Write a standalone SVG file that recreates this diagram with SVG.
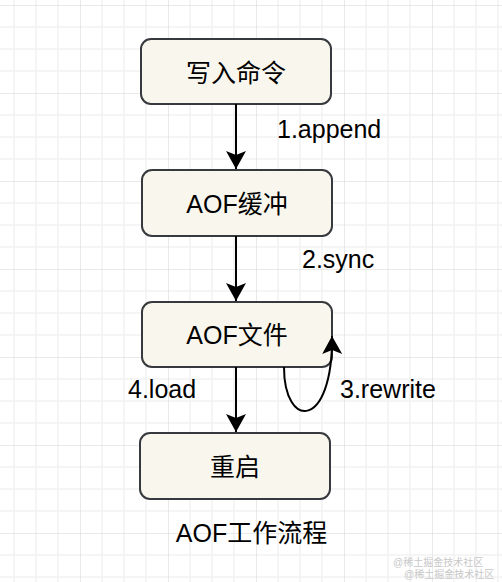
<svg xmlns="http://www.w3.org/2000/svg" width="502" height="582" viewBox="0 0 502 582">
<style>
.node rect{fill:#f9f7ed;stroke:#36393d;stroke-width:2}
text{font-family:"Liberation Sans","Noto Sans CJK SC",sans-serif;fill:#000}
.nt{font-size:25px;text-anchor:middle}
.lb{font-size:25px}
.edge{fill:none;stroke:#000;stroke-width:2}
.wm{font-size:10px;fill:#c8c8c8}
</style>
<defs>
<pattern id="grid" patternUnits="userSpaceOnUse" x="80" y="5" width="88" height="88">
<rect width="88" height="88" fill="#fff"/>
<path d="M22 0V88M44 0V88M66 0V88M0 22H88M0 44H88M0 66H88" stroke="#f2f2f2" stroke-width="1.5"/>
<path d="M0 0V88M0 0H88" stroke="#e2e2e2" stroke-width="1.5"/>
</pattern>
<marker id="arr" markerUnits="userSpaceOnUse" markerWidth="24" markerHeight="24" viewBox="-20 -12 24 24" refX="0" refY="0" orient="auto">
<path d="M0 0L-18 -10L-14 0L-18 10Z" fill="#000"/>
</marker>
</defs>
<rect width="502" height="582" fill="url(#grid)"/>
<g id="n1" class="node"><rect x="141" y="39" width="190" height="65" rx="10"/><text class="nt" x="236" y="82">写入命令</text></g>
<g id="n2" class="node"><rect x="142" y="170" width="190" height="66" rx="10"/><text class="nt" x="237" y="213">AOF缓冲</text></g>
<g id="n3" class="node"><rect x="142" y="302" width="190" height="65" rx="10"/><text class="nt" x="237" y="344">AOF文件</text></g>
<g id="n4" class="node"><rect x="140" y="433" width="190" height="66" rx="10"/><text class="nt" x="235" y="476">重启</text></g>
<g id="edges">
<path class="edge" d="M236 104V169" marker-end="url(#arr)"/>
<path class="edge" d="M236 236V301" marker-end="url(#arr)"/>
<path class="edge" d="M236 367V432" marker-end="url(#arr)"/>
<path class="edge" d="M284 367C284 430 333 430 332 336" marker-end="url(#arr)"/>
</g>
<g id="labels">
<text class="lb" x="277" y="138">1.append</text>
<text class="lb" x="302" y="268">2.sync</text>
<text class="lb" x="128" y="398">4.load</text>
<text class="lb" x="340" y="398">3.rewrite</text>
<text class="nt" x="251.5" y="542">AOF工作流程</text>
</g>
<text class="wm" x="393" y="566">@稀土掘金技术社区</text>
<text class="wm" x="404" y="578">@稀土掘金技术社区</text>
</svg>
